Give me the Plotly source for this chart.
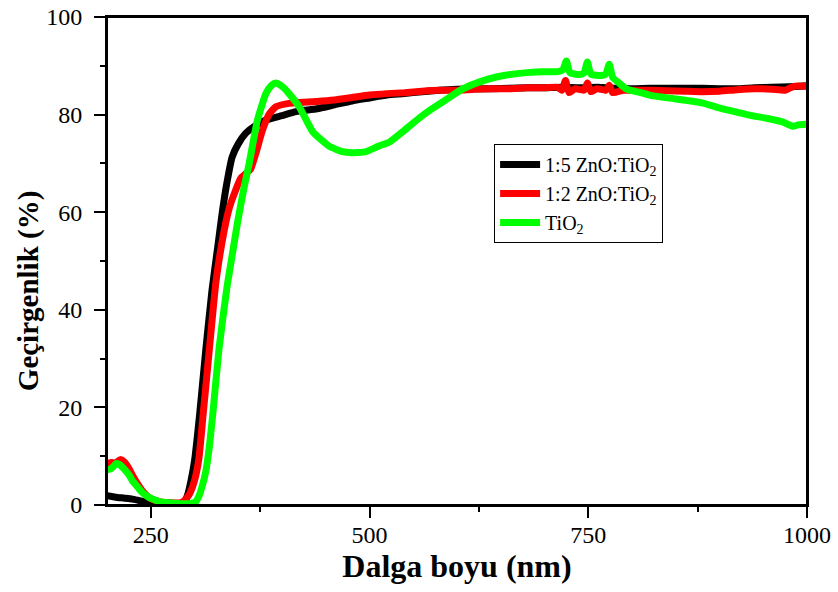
import plotly.graph_objects as go

# 1:5 ZnO:TiO2 (black)
x_15 = [200, 210, 220, 229, 240, 248, 260, 270, 280, 288, 292, 296, 300, 306, 313, 320, 327, 331.6, 337,
        343, 350, 358.7, 370, 381.6, 400, 416, 440, 460, 480, 500, 520, 540, 560, 580, 600, 620, 640,
        660, 680, 700, 720, 740, 760, 780, 800, 820, 840, 860, 880, 900, 920, 940, 960, 980, 1000]
y_15 = [1.9, 1.6, 1.4, 1.2, 0.8, 0.6, 0.4, 0.3, 0.25, 0.5, 2.0, 5.0, 9.0, 18.8, 32.0, 44.0, 53.5, 59.8, 66.0,
        71.3, 74.0, 76.2, 77.8, 78.9, 79.8, 80.6, 81.2, 82.0, 82.8, 83.4, 84.0, 84.3, 84.7, 85.0, 85.2, 85.3, 85.3,
        85.4, 85.5, 85.5, 85.6, 85.5, 85.6, 85.4, 85.3, 85.4, 85.4, 85.4, 85.4, 85.3, 85.3, 85.5, 85.6, 85.7, 85.9]

# 1:2 ZnO:TiO2 (red)
x_12 = [200, 205, 210, 215, 220, 225, 230, 235, 240, 245, 250, 260, 270, 280, 285, 290, 295, 300, 305, 310,
        317, 324.7, 334, 340, 347, 353, 364, 370, 377.7, 385, 393, 408, 420, 440, 460, 480, 500, 520, 540,
        560, 580, 600, 620, 640, 660, 680, 700, 715, 720, 724, 728, 735, 745, 749, 753, 760, 770, 774, 778,
        790, 800, 820, 840, 860, 880, 900, 920, 940, 960, 975, 985, 1000]
y_12 = [8.5, 8.7, 8.6, 9.3, 8.8, 7.5, 5.8, 4.3, 3.0, 2.0, 1.3, 0.7, 0.5, 0.4, 0.5, 1.2, 2.5, 5.0, 9.5, 18.8,
        32.0, 46.0, 56.3, 61.0, 64.5, 67.0, 68.8, 72.0, 76.8, 80.0, 81.6, 82.3, 82.5, 82.7, 83.0, 83.5, 84.0, 84.3, 84.5,
        84.8, 85.0, 85.0, 85.2, 85.3, 85.3, 85.5, 85.5, 85.6, 85.0, 87.0, 84.5, 85.3, 85.0, 86.5, 84.7, 85.3, 85.0, 86.0, 84.5,
        85.0, 85.0, 85.0, 84.9, 84.8, 84.7, 84.8, 85.1, 85.3, 85.2, 85.0, 85.8, 85.8]

# TiO2 (green)
x_ti = [200, 205, 211, 215, 220, 225, 229, 235, 240, 245, 251, 260, 267, 280, 295, 301, 305, 309, 313, 317,
        321, 328, 337, 342, 349, 356, 362.5, 372, 381.6, 388, 393, 400, 408, 419.7, 435, 445, 454, 469, 480,
        496, 510, 523, 540, 557, 570, 587, 606, 626, 645, 664, 680, 700, 715, 721, 725, 729, 740, 745, 749,
        753, 765, 770, 774, 778, 785, 794, 810, 820, 850, 880, 897, 915, 934, 955, 972, 984, 990, 1000]
y_ti = [7.2, 7.5, 8.5, 8.2, 7.3, 6.2, 5.0, 3.7, 2.6, 1.9, 1.3, 0.7, 0.5, 0.3, 0.3, 0.6, 1.8, 4.0, 7.0, 12.0,
        18.8, 32.0, 44.5, 50.0, 57.7, 64.5, 70.0, 78.9, 84.3, 86.0, 86.5, 85.8, 84.3, 81.6, 76.5, 74.8, 73.5, 72.4, 72.2,
        72.4, 73.5, 74.4, 76.8, 79.3, 81.0, 83.0, 85.2, 86.7, 87.7, 88.3, 88.6, 88.8, 88.8, 89.2, 91.0, 88.6, 88.2, 88.5, 90.8,
        88.3, 88.0, 88.3, 90.3, 87.6, 86.5, 85.2, 84.5, 84.0, 83.2, 82.4, 81.5, 80.7, 79.9, 79.2, 78.5, 77.6, 77.9, 78.0]

series_names = ["1:5 ZnO:TiO<sub>2</sub>", "1:2 ZnO:TiO<sub>2</sub>", "TiO<sub>2</sub>"]
x_ticks = [250, 500, 750, 1000]
y_ticks = [0, 20, 40, 60, 80, 100]
x_title = "Dalga boyu (nm)"
y_title = "Geçirgenlik (%)"

FONT = "Liberation Serif, Times New Roman, serif"

fig = go.Figure()
for xs, ys, name, color in [(x_15, y_15, series_names[0], "#000000"),
                            (x_12, y_12, series_names[1], "#ff0000"),
                            (x_ti, y_ti, series_names[2], "#00ff00")]:
    fig.add_trace(go.Scatter(x=xs, y=ys, mode="lines", name=name,
                             line=dict(color=color, width=7, shape="spline", smoothing=0.5)))

axis_common = dict(
    showline=True, linecolor="black", linewidth=2, mirror=True,
    ticks="outside", ticklen=11, tickwidth=2, tickcolor="black",
    showgrid=False, zeroline=False, ticklabeloverflow="allow",
    tickfont=dict(family=FONT, size=24, color="black"),
)

fig.update_xaxes(range=[200, 1000], tickvals=x_ticks, ticktext=[str(v) for v in x_ticks],
                 minor=dict(ticks="outside", ticklen=5, tickwidth=2, tickcolor="black",
                            tickvals=[375, 625, 875]),
                 ticklabelstandoff=-4,
                 title=dict(text="<b>" + x_title + "</b>", font=dict(family=FONT, size=32, color="black"),
                            standoff=4),
                 **axis_common)
fig.update_yaxes(range=[0, 100], tickvals=y_ticks, ticktext=[str(v) for v in y_ticks],
                 minor=dict(ticks="outside", ticklen=5, tickwidth=2, tickcolor="black",
                            tickvals=[10, 30, 50, 70, 90]),
                 ticklabelstandoff=7,
                 **axis_common)

# y-axis title sits below the axis centre in the reference, so it is placed as a rotated annotation
fig.add_annotation(text="<b>" + y_title + "</b>", textangle=-90, showarrow=False,
                   xref="paper", yref="paper", x=-0.113, y=0.44,
                   xanchor="center", yanchor="middle",
                   font=dict(family=FONT, size=29, color="black"))

# plot frame (explicit so the top edge is always drawn)
fig.add_shape(type="rect", xref="paper", yref="paper", x0=0, x1=1, y0=0, y1=1,
              line=dict(color="black", width=2), layer="above")

fig.update_layout(
    width=838, height=592,
    margin=dict(l=107, r=31, t=17, b=87, autoexpand=False),
    paper_bgcolor="white", plot_bgcolor="white",
    font=dict(family=FONT, color="black"),
    showlegend=True,
    legend=dict(x=0.553, y=0.74, xanchor="left", yanchor="top",
                bordercolor="black", borderwidth=1, bgcolor="rgba(255,255,255,0)",
                font=dict(family=FONT, size=20, color="black"),
                tracegroupgap=0, itemwidth=40),
)

# remove the browser's default 8px body margin so the figure fills the window exactly
fig.write_html("out.html", config={"displayModeBar": False},
               post_script="document.body.style.margin='0';")
